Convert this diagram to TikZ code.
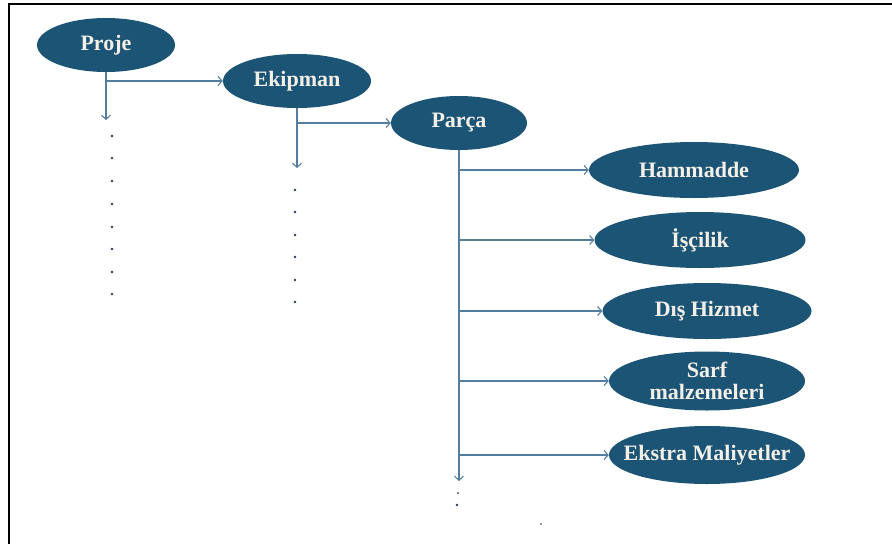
\documentclass[tikz,border=0pt]{standalone}
\usepackage{fontspec}
\setmainfont{Liberation Serif}
\usetikzlibrary{shapes.geometric,arrows.meta}
\definecolor{nodefill}{RGB}{28,84,118}
\definecolor{linkblue}{RGB}{84,126,160}
\definecolor{dotblue}{RGB}{40,60,90}
\definecolor{labeltext}{RGB}{244,240,232}
\tikzset{
  oval/.style={ellipse, fill=nodefill, draw=none, inner sep=0pt},
  ovaltext/.style={text=labeltext, inner sep=0pt,
    font=\bfseries\fontsize{22}{22}\selectfont, align=center},
  conn/.style={draw=linkblue, line width=1.2pt,
    -{Straight Barb[length=4pt,width=9pt,line width=1.1pt]}},
  dotmark/.style={fill=dotblue, draw=none, circle, inner sep=0pt, minimum size=2.6pt},
  frame/.style={draw=black, line width=2.6pt}
}
\begin{document}
\begin{tikzpicture}[x=1pt,y=-1pt]
\useasboundingbox (0,0) rectangle (892,544);
\fill[white] (0,0) rectangle (892,544);
% outer frame (top and left edges)
\draw[frame] (8,4) -- (892,4);
\draw[frame] (9,3) -- (9,544);

% hierarchy nodes
\node[oval, minimum width=138pt, minimum height=54pt,
  label={[ovaltext]center:Proje}] (proje) at (106,45) {};
\node[oval, minimum width=148pt, minimum height=54pt,
  label={[ovaltext]center:Ekipman}] (ekipman) at (297,81) {};
\node[oval, minimum width=136pt, minimum height=54pt,
  label={[ovaltext]center:Parça}] (parca) at (459,123) {};

\node[oval, minimum width=210pt, minimum height=56pt,
  label={[ovaltext]center:Hammadde}] (ham) at (694,170) {};
\node[oval, minimum width=211pt, minimum height=56pt,
  label={[ovaltext]center:İşçilik}] (isc) at (700,240) {};
\node[oval, minimum width=209pt, minimum height=56pt,
  label={[ovaltext]center:Dış Hizmet}] (dis) at (707,311) {};
\node[oval, minimum width=196pt, minimum height=59pt,
  label={[ovaltext]center:Sarf\\malzemeleri}] (sarf) at (707,381) {};
\node[oval, minimum width=196pt, minimum height=58pt,
  label={[ovaltext]center:Ekstra Maliyetler}] (ekstra) at (707,455) {};

% free ends of the downward arrows
\coordinate (pdown) at (106,120);
\coordinate (edown) at (297,168);
\coordinate (cdown) at (459,481);

% Proje
\draw[conn] (proje.south) -- (pdown);
\draw[conn] (proje.south |- ekipman.west) -- (ekipman.west);
% Ekipman
\draw[conn] (ekipman.south) -- (edown);
\draw[conn] (ekipman.south |- parca.west) -- (parca.west);
% Parça
\draw[conn] (parca.south) -- (cdown);
\foreach \t in {ham,isc,dis,sarf,ekstra}
  \draw[conn] (parca.south |- \t.west) -- (\t.west);

% continuation dots
\foreach \y in {136,158,181,204,227,249,272,294}
  \node[dotmark] (pd\y) at (112,\y) {};
\foreach \y in {190,212,235,257,280,302}
  \node[dotmark] (ed\y) at (295,\y) {};
\node[dotmark, minimum size=2pt] (cd1) at (458,493) {};
\node[dotmark] (cd2) at (457,505) {};
\node[dotmark, minimum size=1.8pt] (cd3) at (541,524) {};
\end{tikzpicture}
\end{document}
